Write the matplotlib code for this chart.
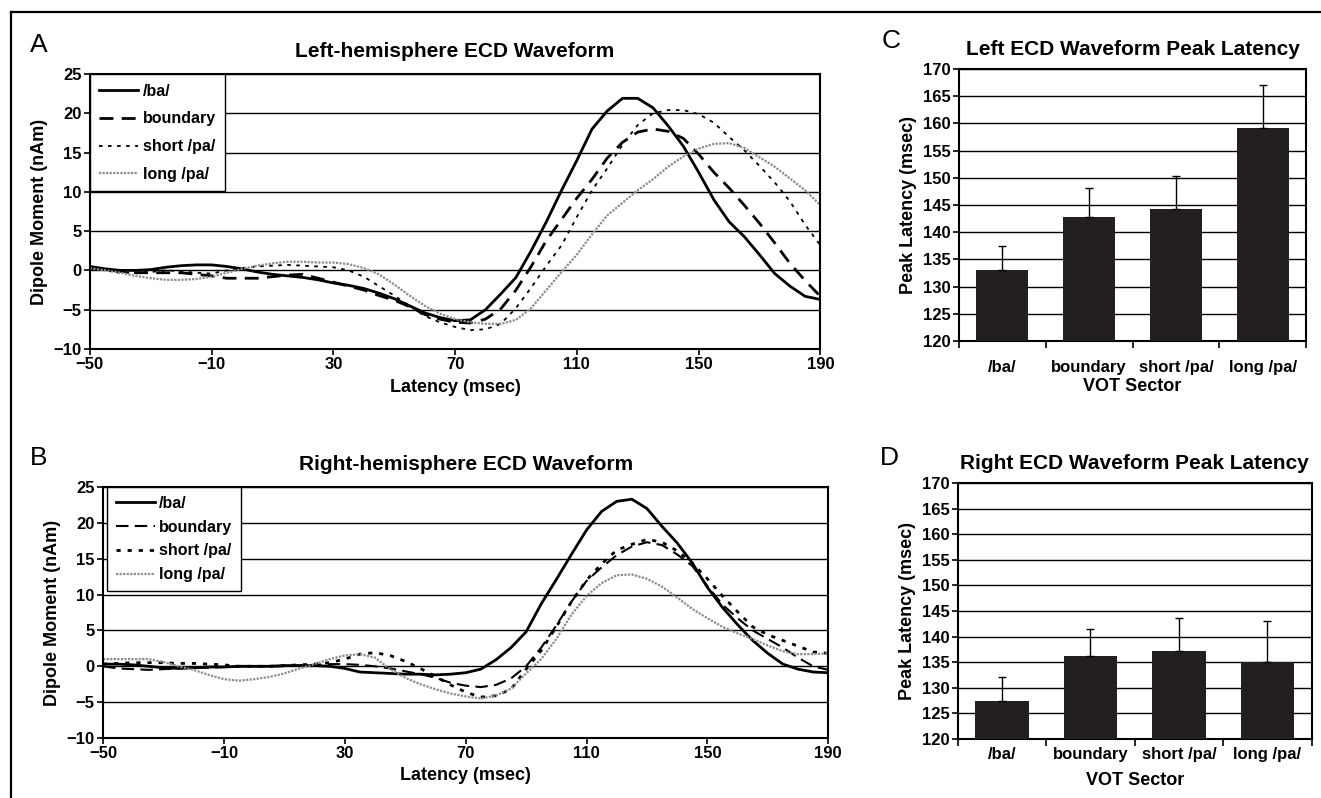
import numpy as np
import matplotlib
matplotlib.use("Agg")
import matplotlib.pyplot as plt
from matplotlib.lines import Line2D

plt.rcParams['font.family'] = ['Liberation Sans', 'DejaVu Sans']
plt.rcParams['font.weight'] = 'bold'
plt.rcParams['axes.labelweight'] = 'bold'
plt.rcParams['axes.titleweight'] = 'bold'

# latency grid (msec), shared by all waveforms
latency = list(range(-50, 191, 5))

# Panel A: left hemisphere ECD waveform (nAm)
left_ba = [0.5, 0.2, 0.0, 0.0, 0.1, 0.4, 0.6, 0.7, 0.7, 0.5, 0.2, -0.2, -0.5, -0.7, -0.9, -1.2,
           -1.6, -1.9, -2.3, -2.9, -3.6, -4.5, -5.4, -6.0, -6.4, -6.3, -5.0, -3.0, -0.9, 2.5, 6.2,
           10.2, 14.0, 18.0, 20.3, 21.9, 21.9, 20.7, 18.4, 15.8, 12.5, 9.0, 6.2, 4.3, 2.0, -0.4,
           -2.0, -3.3, -3.7]
left_boundary = [0.3, 0.1, -0.1, -0.3, -0.3, -0.3, -0.3, -0.5, -0.7, -1.0, -1.0, -1.0, -0.8, -0.6,
                 -0.5, -1.0, -1.5, -2.0, -2.5, -3.2, -3.8, -4.6, -5.6, -6.2, -6.6, -6.7, -6.2, -4.9,
                 -2.5, 0.5, 3.8, 6.5, 9.2, 11.6, 14.3, 16.3, 17.6, 18.0, 17.7, 16.8, 14.8, 12.5,
                 10.5, 8.3, 6.0, 3.5, 0.9, -1.3, -3.3]
left_short_pa = [0.3, 0.0, -0.3, -0.3, -0.2, 0.0, -0.1, -0.3, -0.4, 0.0, 0.3, 0.5, 0.6, 0.7, 0.6,
                 0.5, 0.4, 0.0, -0.8, -2.0, -3.2, -4.5, -5.8, -6.6, -7.2, -7.6, -7.5, -6.8, -4.8,
                 -2.2, 0.6, 3.2, 6.8, 10.2, 13.0, 16.0, 18.5, 20.0, 20.4, 20.4, 19.9, 18.8, 17.0,
                 15.3, 13.3, 11.2, 8.8, 5.8, 3.2]
left_long_pa = [0.3, 0.0, -0.3, -0.7, -1.0, -1.2, -1.2, -1.1, -0.8, -0.3, 0.2, 0.6, 0.9, 1.1, 1.1,
                1.0, 1.0, 0.8, 0.3, -0.5, -1.8, -3.2, -4.5, -5.5, -6.2, -6.6, -6.8, -6.8, -6.3, -4.8,
                -2.5, -0.2, 2.0, 4.6, 7.0, 8.6, 10.2, 11.6, 13.2, 14.5, 15.5, 16.1, 16.2, 15.6, 14.4,
                13.2, 11.7, 10.2, 8.3]

# Panel B: right hemisphere ECD waveform (nAm)
right_ba = [0.3, 0.3, 0.2, 0.0, -0.2, -0.3, -0.2, -0.1, -0.1, 0.0, 0.0, 0.0, 0.1, 0.1, 0.1, 0.0,
            -0.3, -0.8, -0.9, -1.0, -1.1, -1.1, -1.2, -1.1, -0.9, -0.4, 0.9, 2.6, 4.8, 8.7, 12.1,
            15.6, 19.0, 21.6, 23.0, 23.3, 22.0, 19.5, 17.2, 14.4, 11.0, 8.2, 5.8, 3.6, 1.8, 0.3,
            -0.4, -0.8, -0.9]
right_boundary = [0.0, -0.3, -0.4, -0.5, -0.4, -0.3, -0.2, -0.2, -0.1, 0.0, 0.0, 0.0, 0.0, 0.1,
                  0.2, 0.3, 0.3, 0.2, 0.0, -0.3, -0.7, -1.1, -1.6, -2.3, -2.7, -2.9, -2.6, -1.7,
                  0.0, 2.6, 5.7, 9.0, 11.9, 13.8, 15.5, 16.7, 17.3, 16.9, 15.6, 14.0, 11.2, 8.6,
                  6.7, 5.0, 3.8, 2.6, 1.2, 0.0, -0.5]
right_short_pa = [0.3, 0.4, 0.5, 0.5, 0.5, 0.4, 0.4, 0.3, 0.2, 0.0, 0.0, 0.0, 0.1, 0.2, 0.3, 0.5,
                  1.0, 1.7, 1.9, 1.5, 0.7, -0.3, -1.4, -2.6, -3.6, -4.3, -4.1, -3.2, -0.4, 2.2,
                  5.5, 9.0, 12.0, 14.3, 16.2, 17.0, 17.7, 17.3, 16.1, 14.4, 12.2, 9.8, 7.6, 5.5,
                  4.4, 3.6, 2.8, 2.0, 1.8]
right_long_pa = [1.0, 1.0, 1.0, 1.0, 0.6, 0.0, -0.5, -1.2, -1.8, -2.0, -1.8, -1.5, -1.0, -0.3, 0.3,
                 1.0, 1.5, 1.7, 1.2, -0.4, -1.6, -2.5, -3.2, -3.8, -4.2, -4.5, -4.1, -3.1, -1.0,
                 1.0, 3.8, 7.2, 9.8, 11.6, 12.7, 12.8, 12.2, 11.1, 9.6, 8.0, 6.7, 5.5, 4.6, 3.8,
                 2.9, 2.1, 1.7, 1.7, 1.8]

# Panels C and D: peak latency by VOT sector (msec), upper error bar ends
sectors = ['/ba/', 'boundary', 'short /pa/', 'long /pa/']
left_peak = [133.0, 142.7, 144.2, 159.2]
left_err_top = [137.5, 148.2, 150.4, 167.0]
right_peak = [127.5, 136.2, 137.2, 135.1]
right_err_top = [132.2, 141.5, 143.6, 143.0]

series_names = ['/ba/', 'boundary', 'short /pa/', 'long /pa/']

TICK = 12
LABEL = 13
TITLE = 15
LEG = 11.5

fig = plt.figure(figsize=(13.21, 7.98), dpi=100)

ax_a = fig.add_axes([0.068, 0.5627, 0.553, 0.3446])
ax_b = fig.add_axes([0.078, 0.0752, 0.549, 0.3145])
ax_c = fig.add_axes([0.726, 0.5727, 0.2627, 0.3409])
ax_d = fig.add_axes([0.725, 0.0739, 0.268, 0.3208])

styles_a = [dict(color='black', lw=2.0, ls='-'),
            dict(color='black', lw=2.0, ls=(0, (5, 3))),
            dict(color='black', lw=1.3, ls=(0, (2, 3))),
            dict(color='0.55', lw=1.6, ls=(0, (1, 0.6)))]
styles_b = [dict(color='black', lw=2.0, ls='-'),
            dict(color='black', lw=1.5, ls=(0, (6, 3))),
            dict(color='black', lw=2.0, ls=(0, (1.5, 2.5))),
            dict(color='0.55', lw=1.6, ls=(0, (1, 0.6)))]


def wave_panel(ax, curves, styles, title, xpad, legend_kw):
    for y, st, name in zip(curves, styles, series_names):
        ax.plot(latency, y, label=name, **st)
    ax.set_xlim(-50, 190)
    ax.set_ylim(-10, 25)
    ax.set_xticks([-50, -10, 30, 70, 110, 150, 190])
    ax.set_yticks(range(-10, 26, 5))
    ax.yaxis.grid(True, color='black', lw=1.0)
    ax.set_axisbelow(True)
    ax.tick_params(labelsize=TICK, direction='out', length=4, width=1.2, pad=2)
    for s in ax.spines.values():
        s.set_linewidth(1.5)
    ax.set_xlabel('Latency (msec)', fontsize=LABEL, labelpad=xpad)
    ax.set_ylabel('Dipole Moment (nAm)', fontsize=LABEL, labelpad=4)
    ax.set_title(title, fontsize=TITLE, pad=12)
    leg = ax.legend(loc='upper left', borderaxespad=0, fancybox=False,
                    edgecolor='black', framealpha=1,
                    prop={'weight': 'bold', 'size': LEG}, **legend_kw)
    leg.get_frame().set_linewidth(1.0)


wave_panel(ax_a, [left_ba, left_boundary, left_short_pa, left_long_pa], styles_a,
           'Left-hemisphere ECD Waveform', 5,
           dict(bbox_to_anchor=(0, 1), handlelength=2.4, labelspacing=0.8,
                borderpad=0.6, handletextpad=0.3))
wave_panel(ax_b, [right_ba, right_boundary, right_short_pa, right_long_pa], styles_b,
           'Right-hemisphere ECD Waveform', 4,
           dict(bbox_to_anchor=(0.006, 1), handlelength=2.4, labelspacing=0.55,
                borderpad=0.55, handletextpad=0.3))


def bar_panel(ax, peaks, tops, title, lab_pad, xpad):
    x = np.arange(len(sectors))
    err = [[0] * len(peaks), [t - p for t, p in zip(tops, peaks)]]
    ax.bar(x, peaks, width=0.6, bottom=0, color='#231f20', zorder=3)
    ax.errorbar(x, peaks, yerr=err, fmt='none', ecolor='black', elinewidth=1.0,
                capsize=3, capthick=1.0, zorder=4)
    ax.set_xlim(-0.5, 3.5)
    ax.set_ylim(120, 170)
    ax.set_yticks(range(120, 171, 5))
    ax.yaxis.grid(True, color='black', lw=1.0)
    ax.set_axisbelow(True)
    ax.set_xticks(x)
    ax.set_xticklabels(sectors)
    ax.set_xticks(np.arange(-0.5, 3.6, 1), minor=True)
    ax.tick_params(axis='x', which='major', length=0, pad=lab_pad, labelsize=TICK)
    ax.tick_params(axis='x', which='minor', length=5, width=1.2, direction='out')
    ax.tick_params(axis='y', labelsize=TICK, length=4, width=1.2, pad=2)
    for s in ax.spines.values():
        s.set_linewidth(1.5)
    ax.set_xlabel('VOT Sector', fontsize=LABEL, labelpad=xpad)
    ax.set_ylabel('Peak Latency (msec)', fontsize=LABEL, labelpad=4)
    ax.set_title(title, fontsize=TITLE, pad=10)


bar_panel(ax_c, left_peak, left_err_top, 'Left ECD Waveform Peak Latency', 14, 2)
bar_panel(ax_d, right_peak, right_err_top, 'Right ECD Waveform Peak Latency', 6, 7)

for letter, (lx, ly) in zip('ABCD', [(0.0227, 0.9348), (0.0227, 0.4173),
                                    (0.6677, 0.9400), (0.6660, 0.4173)]):
    fig.text(lx, ly, letter, fontsize=19, fontweight='normal', ha='left', va='baseline')

# outer frame (top and left edges)
fx = 11 / 1321
fy = 1 - 12 / 798
fig.add_artist(Line2D([fx, 1], [fy, fy], color='black', lw=1.6, transform=fig.transFigure))
fig.add_artist(Line2D([fx, fx], [0, fy], color='black', lw=1.6, transform=fig.transFigure))

fig.savefig('out.png', dpi=100)
